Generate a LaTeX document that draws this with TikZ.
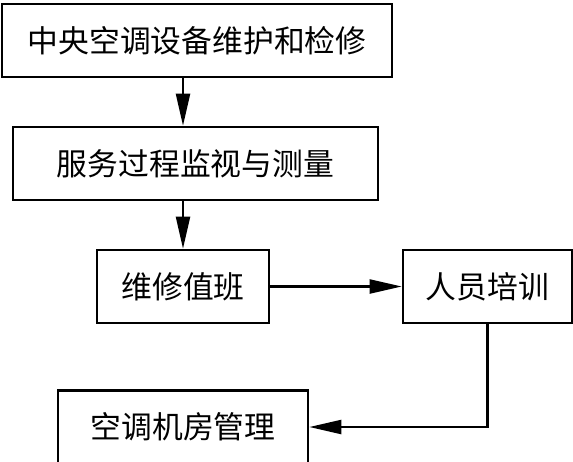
\documentclass[tikz,border=0pt]{standalone}
\usepackage{fontspec}
\newfontfamily\cjk{Noto Sans CJK SC}
\usetikzlibrary{arrows.meta}

\begin{document}
\begin{tikzpicture}[x=0.5pt,y=-0.5pt,>={Triangle[length=16pt,width=7pt]}]

  \tikzstyle{box}=[rectangle,draw=black,line width=1.3pt,inner sep=0pt,minimum height=36.5pt,font=\cjk\fontsize{15.4}{18}\selectfont]
  \tikzstyle{flow}=[->,line width=1.1pt]

  \useasboundingbox (0,0) rectangle (573,461);

  \path (197,40.5)    node[box,minimum width=195pt]   (maint)   {中央空调设备维护和检修}
        (195.5,163.5) node[box,minimum width=182.5pt] (monitor) {服务过程监视与测量}
        (183,286.5)   node[box,minimum width=86pt]    (duty)    {维修值班}
        (487.5,286.5) node[box,minimum width=84.5pt]  (train)   {人员培训}
        (183,427)     node[box,minimum width=125pt]   (room)    {空调机房管理};

  \draw[flow] (maint.south -| duty) -- (monitor.north -| duty);
  \draw[flow] (monitor.south -| duty) -- (duty);
  \draw[flow] (duty) -- (train);
  \draw[flow] (train) |- (room);

\end{tikzpicture}
\end{document}
